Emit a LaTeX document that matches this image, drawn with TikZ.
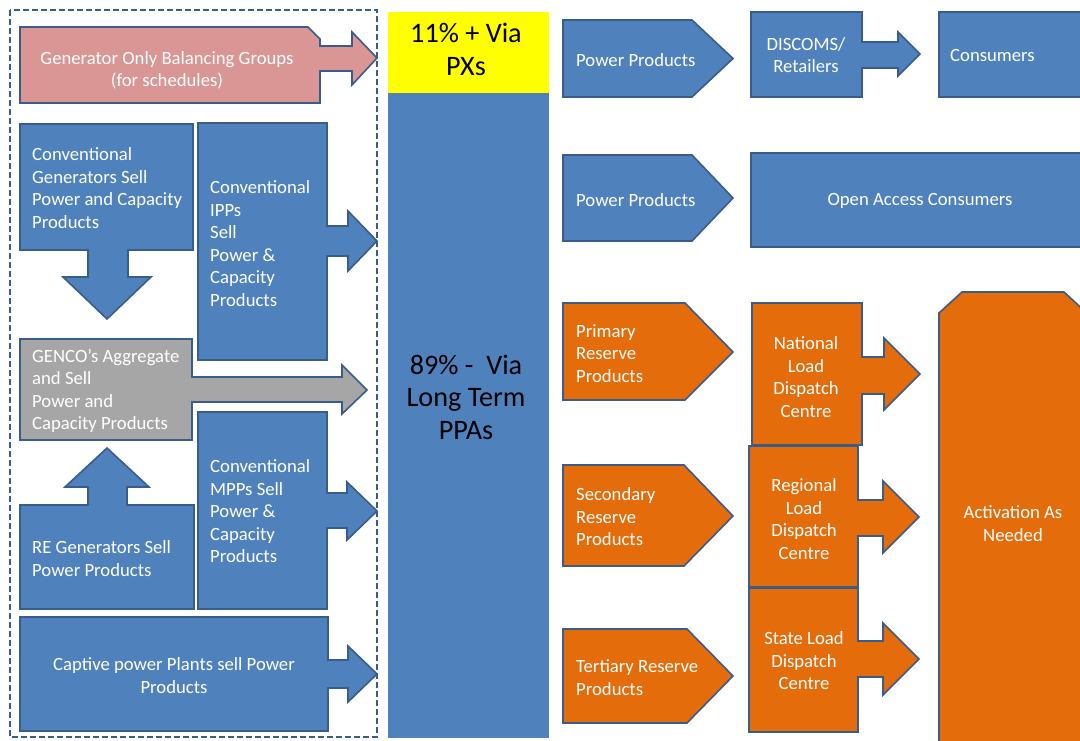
\documentclass[tikz,border=0pt]{standalone}
\usepackage{fontspec}
\setmainfont{Carlito}
\definecolor{blueA}{HTML}{4F81BD}
\definecolor{bordc}{HTML}{385D8A}
\definecolor{pinkA}{HTML}{D99694}
\definecolor{grayA}{HTML}{A6A6A6}
\definecolor{orangeA}{HTML}{E46C0A}
\definecolor{yellowA}{HTML}{FFFF00}
\newcommand\mytxt{\fontsize{18.7}{22.5}\selectfont}
\newcommand\mybig{\fontsize{28.2}{32.5}\selectfont}
\begin{document}
\begin{tikzpicture}[x=1pt,y=-1pt,
  shp/.style={draw=bordc, line width=1.6pt, line join=miter},
  blueshp/.style={shp, fill=blueA},
  orshp/.style={shp, fill=orangeA},
  txt/.style={text=white, font=\mytxt, inner sep=0pt, align=left},
  ctxt/.style={txt, align=center},
  bigtxt/.style={text=black, font=\mybig, inner sep=0pt, align=center}]
\useasboundingbox (0,0) rectangle (1080,740);
\clip (0,0) rectangle (1080,740);
\fill[white] (0,0) rectangle (1080,740);

% dashed group frame
\draw[bordc, line width=1.8pt, dash pattern=on 6pt off 3pt] (10,10) rectangle (377,737);

% pink
\path[shp, fill=pinkA] (20,27) -- (308,27) -- (320,39) -- (320,46) -- (352,46) -- (352,32) -- (377,58) -- (352,85) -- (352,71) -- (320,71) -- (320,103) -- (20,103) -- cycle;
\node[ctxt] (gobg) at (167,70.5) {Generator Only Balancing Groups\\(for schedules)};

% conventional generators with down arrow
\path[blueshp] (20,124) -- (193,124) -- (193,250) -- (128,250) -- (128,277) -- (151,277) -- (107,319) -- (63,277) -- (88,277) -- (88,250) -- (20,250) -- cycle;
\node[txt, anchor=west] (cg) at (32,188) {Conventional\\Generators Sell\\Power and Capacity\\Products};

% IPPs
\path[blueshp] (198,123) -- (327,123) -- (327,226) -- (348,226) -- (348,211) -- (377,241) -- (348,271) -- (348,256) -- (327,256) -- (327,360) -- (198,360) -- cycle;
\node[txt, anchor=west] (ipp) at (210,243.5) {Conventional\\IPPs\\Sell\\Power \&\\Capacity\\Products};

% GENCO
\path[shp, fill=grayA] (20,339) -- (192,339) -- (192,377) -- (342,377) -- (342,365) -- (367,390) -- (342,414) -- (342,402) -- (192,402) -- (192,440) -- (20,440) -- cycle;
\node[txt, anchor=west] (genco) at (32,391) {GENCO’s Aggregate\\and Sell\\Power and\\Capacity Products};

% RE with up arrow
\path[blueshp] (20,505) -- (88,505) -- (88,487) -- (65,487) -- (107,448) -- (149,487) -- (127,487) -- (127,505) -- (194,505) -- (194,609) -- (20,609) -- cycle;
\node[txt, anchor=west] (re) at (32,558.5) {RE Generators Sell\\Power Products};

% MPPs
\path[blueshp] (198,412) -- (327,412) -- (327,493) -- (347,493) -- (347,482) -- (377,511) -- (347,540) -- (347,528) -- (327,528) -- (327,609) -- (198,609) -- cycle;
\node[txt, anchor=west] (mpp) at (210,511.5) {Conventional\\MPPs Sell\\Power \&\\Capacity\\Products};

% captive
\path[blueshp] (20,617) -- (328,617) -- (328,660) -- (348,660) -- (348,646) -- (377,674) -- (348,702) -- (348,688) -- (328,688) -- (328,731) -- (20,731) -- cycle;
\node[ctxt] (cpp) at (174,675.5) {Captive power Plants sell Power\\Products};

% central column
\fill[yellowA] (388,12) rectangle (549,93);
\fill[blueA] (388,93) rectangle (549,738);
\node[bigtxt] (px) at (466,49.5) {11\% + Via\\PXs};
\node[bigtxt] (ppa) at (466,397) {89\% -\ \ Via\\Long Term\\PPAs};

% right: power products
\path[blueshp] (563,20) -- (692,20) -- (733,58.5) -- (692,97) -- (563,97) -- cycle;
\node[txt, anchor=west] (pp1) at (576,60) {Power Products};
\path[blueshp] (751,12) -- (862,12) -- (862,42) -- (898,42) -- (898,32) -- (920,54) -- (898,76) -- (898,68) -- (862,68) -- (862,97) -- (751,97) -- cycle;
\node[ctxt] (disc) at (806,55) {DISCOMS/\\Retailers};
\path[blueshp] (939,12) rectangle (1090,97);
\node[txt, anchor=west] (cons) at (950,55) {Consumers};

\path[blueshp] (563,155) -- (692,155) -- (733,198) -- (692,241) -- (563,241) -- cycle;
\node[txt, anchor=west] (pp2) at (576,200) {Power Products};
\path[blueshp] (751,153) rectangle (1090,247);
\node[txt] (oac) at (920,201) {Open Access Consumers};

% reserves
\path[orshp] (563,303) -- (685,303) -- (733,352) -- (685,400) -- (563,400) -- cycle;
\node[txt, anchor=west] (prim) at (576,353.5) {Primary\\Reserve\\Products};
\path[orshp] (563,465) -- (684,465) -- (733,516) -- (684,566) -- (563,566) -- cycle;
\node[txt, anchor=west] (sec) at (576,517) {Secondary\\Reserve\\Products};
\path[orshp] (563,629) -- (687,629) -- (733,676) -- (687,723) -- (563,723) -- cycle;
\node[txt, anchor=west] (ter) at (576,677.5) {Tertiary Reserve\\Products};

\path[orshp] (752,303) -- (862,303) -- (862,357) -- (884,357) -- (884,338) -- (920,374) -- (884,410) -- (884,394) -- (862,394) -- (862,445) -- (752,445) -- cycle;
\node[ctxt] (nldc) at (806,377) {National\\Load\\Dispatch\\Centre};
\path[orshp] (749,446) -- (858,446) -- (858,500) -- (883,500) -- (883,481) -- (919,517) -- (883,553) -- (883,536) -- (858,536) -- (858,587) -- (749,587) -- cycle;
\node[ctxt] (rldc) at (804,519) {Regional\\Load\\Dispatch\\Centre};
\path[orshp] (749,588) -- (858,588) -- (858,641) -- (883,641) -- (883,623) -- (919,659) -- (883,695) -- (883,677) -- (858,677) -- (858,732) -- (749,732) -- cycle;
\node[ctxt] (sldc) at (804,661) {State Load\\Dispatch\\Centre};

\path[orshp] (939,313) -- (962,292) -- (1064,292) -- (1090,316) -- (1090,760) -- (939,760) -- cycle;
\node[ctxt] (act) at (1013,523.5) {Activation As\\Needed};
\end{tikzpicture}
\end{document}
